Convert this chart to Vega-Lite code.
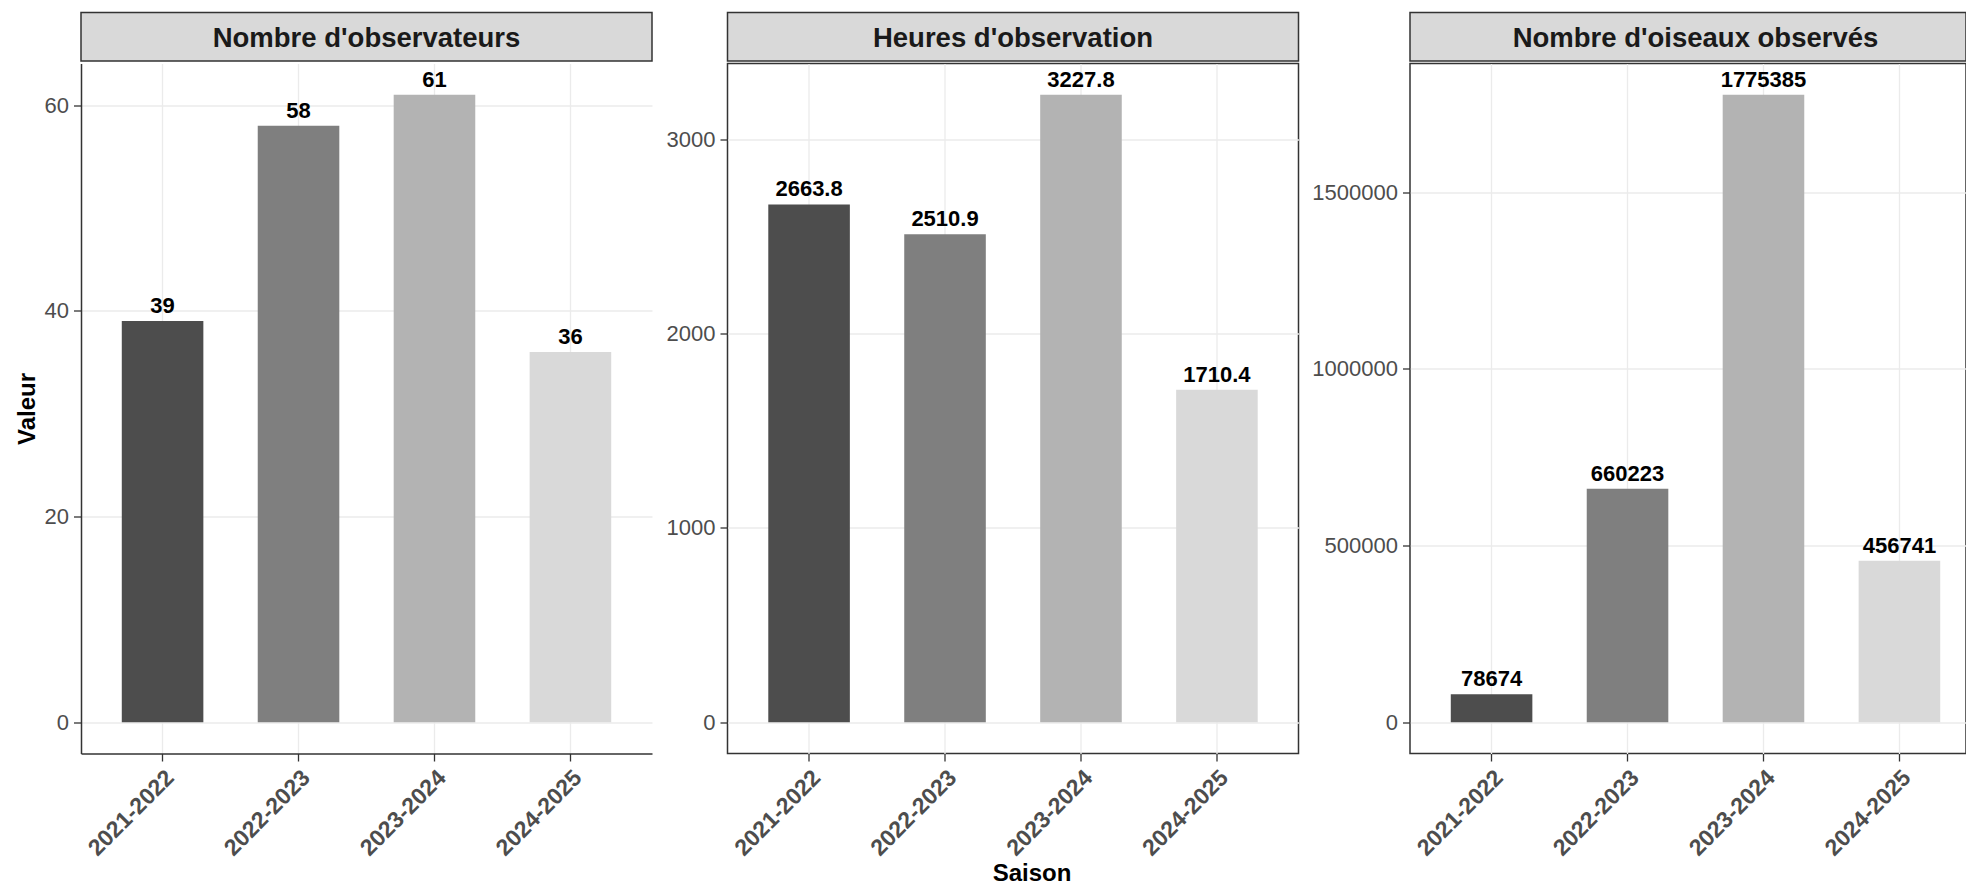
{
  "$schema": "https://vega.github.io/schema/vega-lite/v6.json",
  "background": "white",
  "padding": {"left": 15, "top": 11.5, "right": 0, "bottom": 0},
  "autosize": {"type": "pad"},
  "datasets": {
    "donnees": [
      {"indicateur": "Nombre d'observateurs", "saison": "2021-2022", "valeur": 39},
      {"indicateur": "Nombre d'observateurs", "saison": "2022-2023", "valeur": 58},
      {"indicateur": "Nombre d'observateurs", "saison": "2023-2024", "valeur": 61},
      {"indicateur": "Nombre d'observateurs", "saison": "2024-2025", "valeur": 36},
      {"indicateur": "Heures d'observation", "saison": "2021-2022", "valeur": 2663.8},
      {"indicateur": "Heures d'observation", "saison": "2022-2023", "valeur": 2510.9},
      {"indicateur": "Heures d'observation", "saison": "2023-2024", "valeur": 3227.8},
      {"indicateur": "Heures d'observation", "saison": "2024-2025", "valeur": 1710.4},
      {"indicateur": "Nombre d'oiseaux observés", "saison": "2021-2022", "valeur": 78674},
      {"indicateur": "Nombre d'oiseaux observés", "saison": "2022-2023", "valeur": 660223},
      {"indicateur": "Nombre d'oiseaux observés", "saison": "2023-2024", "valeur": 1775385},
      {"indicateur": "Nombre d'oiseaux observés", "saison": "2024-2025", "valeur": 456741}
    ],
    "titres": [
      {"indicateur": "Nombre d'observateurs"},
      {"indicateur": "Heures d'observation"},
      {"indicateur": "Nombre d'oiseaux observés"}
    ]
  },
  "config": {
    "font": "Liberation Sans",
    "axis": {
      "grid": true, "gridColor": "#EBEBEB", "gridWidth": 1.3,
      "tickColor": "#333333", "tickSize": 7.5, "tickWidth": 1.3,
      "labelFontSize": 22, "labelColor": "#4D4D4D", "labelPadding": 5,
      "domainColor": "#333333", "domainWidth": 1.5,
      "titleFontSize": 24, "titleFontWeight": "bold", "titleColor": "#000000"
    },
    "axisX": {"labelFontSize": 23, "labelPadding": 5},
    "view": {"stroke": "#333333", "strokeWidth": 1.5}
  },
  "columns": 3,
  "align": "each",
  "spacing": {"row": 0, "column": 11.5},
  "concat": [
    {
      "data": {"name": "titres"},
      "transform": [{"filter": {"field": "indicateur", "equal": "Nombre d'observateurs"}}],
      "width": 571, "height": 48.5,
      "view": {"fill": "#D9D9D9", "stroke": "#333333", "strokeWidth": 1.5},
      "mark": {"type": "text", "fontSize": 27.5, "fontWeight": "bold", "color": "#1A1A1A", "baseline": "middle", "dy": 2},
      "encoding": {"text": {"field": "indicateur"}}
    },
    {
      "data": {"name": "titres"},
      "transform": [{"filter": {"field": "indicateur", "equal": "Heures d'observation"}}],
      "width": 571, "height": 48.5,
      "view": {"fill": "#D9D9D9", "stroke": "#333333", "strokeWidth": 1.5},
      "mark": {"type": "text", "fontSize": 27.5, "fontWeight": "bold", "color": "#1A1A1A", "baseline": "middle", "dy": 2},
      "encoding": {"text": {"field": "indicateur"}}
    },
    {
      "data": {"name": "titres"},
      "transform": [{"filter": {"field": "indicateur", "equal": "Nombre d'oiseaux observés"}}],
      "width": 556, "height": 48.5,
      "view": {"fill": "#D9D9D9", "stroke": "#333333", "strokeWidth": 1.5},
      "mark": {"type": "text", "fontSize": 27.5, "fontWeight": "bold", "color": "#1A1A1A", "baseline": "middle", "dy": 2, "dx": 7.5},
      "encoding": {"text": {"field": "indicateur"}}
    },
    {
      "data": {"name": "donnees"},
      "transform": [{"filter": {"field": "indicateur", "equal": "Nombre d'observateurs"}}],
      "width": 571, "height": 690,
      "view": {"stroke": null},
      "encoding": {
        "x": {"field": "saison", "type": "nominal", "sort": null,
              "scale": {"paddingInner": 0.4, "paddingOuter": 0.3},
              "axis": {"title": null, "labelAngle": -45, "labelAlign": "right", "labelBaseline": "top", "labelFontWeight": "bold", "bandPosition": 0.5, "domain": true}},
        "y": {"field": "valeur", "type": "quantitative",
              "scale": {"domain": [-3.05, 64.05], "nice": false, "zero": false},
              "axis": {"title": "Valeur", "values": [0, 20, 40, 60], "format": "d", "titlePadding": 5, "domain": true}}
      },
      "layer": [
        {"mark": {"type": "bar"},
         "encoding": {"fill": {"field": "saison", "type": "nominal", "legend": null,
           "scale": {"domain": ["2021-2022", "2022-2023", "2023-2024", "2024-2025"], "range": ["#4D4D4D", "#7F7F7F", "#B3B3B3", "#D9D9D9"]}}}},
        {"mark": {"type": "text", "fontSize": 22, "fontWeight": "bold", "color": "#000000", "baseline": "alphabetic", "dy": -8},
         "encoding": {"text": {"field": "valeur", "type": "quantitative", "format": "d"}}}
      ]
    },
    {
      "data": {"name": "donnees"},
      "transform": [{"filter": {"field": "indicateur", "equal": "Heures d'observation"}}],
      "width": 571, "height": 690,
      "encoding": {
        "x": {"field": "saison", "type": "nominal", "sort": null,
              "scale": {"paddingInner": 0.4, "paddingOuter": 0.3},
              "axis": {"title": "Saison", "titleX": 304, "titlePadding": 1, "labelAngle": -45, "labelAlign": "right", "labelBaseline": "top", "labelFontWeight": "bold", "bandPosition": 0.5, "domain": false}},
        "y": {"field": "valeur", "type": "quantitative",
              "scale": {"domain": [-161.39, 3389.19], "nice": false, "zero": false},
              "axis": {"title": null, "values": [0, 1000, 2000, 3000], "format": "d", "domain": false}}
      },
      "layer": [
        {"mark": {"type": "bar"},
         "encoding": {"fill": {"field": "saison", "type": "nominal", "legend": null,
           "scale": {"domain": ["2021-2022", "2022-2023", "2023-2024", "2024-2025"], "range": ["#4D4D4D", "#7F7F7F", "#B3B3B3", "#D9D9D9"]}}}},
        {"mark": {"type": "text", "fontSize": 22, "fontWeight": "bold", "color": "#000000", "baseline": "alphabetic", "dy": -8},
         "encoding": {"text": {"field": "valeur", "type": "quantitative", "format": ".1f"}}}
      ]
    },
    {
      "data": {"name": "donnees"},
      "transform": [{"filter": {"field": "indicateur", "equal": "Nombre d'oiseaux observés"}}],
      "width": 556, "height": 690,
      "encoding": {
        "x": {"field": "saison", "type": "nominal", "sort": null,
              "scale": {"paddingInner": 0.4, "paddingOuter": 0.3, "range": [0, 571]},
              "axis": {"title": null, "labelAngle": -45, "labelAlign": "right", "labelBaseline": "top", "labelFontWeight": "bold", "bandPosition": 0.5, "domain": false}},
        "y": {"field": "valeur", "type": "quantitative",
              "scale": {"domain": [-88769.25, 1864154.25], "nice": false, "zero": false},
              "axis": {"title": null, "values": [0, 500000, 1000000, 1500000], "format": "d", "domain": false}}
      },
      "layer": [
        {"mark": {"type": "bar"},
         "encoding": {"fill": {"field": "saison", "type": "nominal", "legend": null,
           "scale": {"domain": ["2021-2022", "2022-2023", "2023-2024", "2024-2025"], "range": ["#4D4D4D", "#7F7F7F", "#B3B3B3", "#D9D9D9"]}}}},
        {"mark": {"type": "text", "fontSize": 22, "fontWeight": "bold", "color": "#000000", "baseline": "alphabetic", "dy": -8},
         "encoding": {"text": {"field": "valeur", "type": "quantitative", "format": "d"}}}
      ]
    }
  ]
}
